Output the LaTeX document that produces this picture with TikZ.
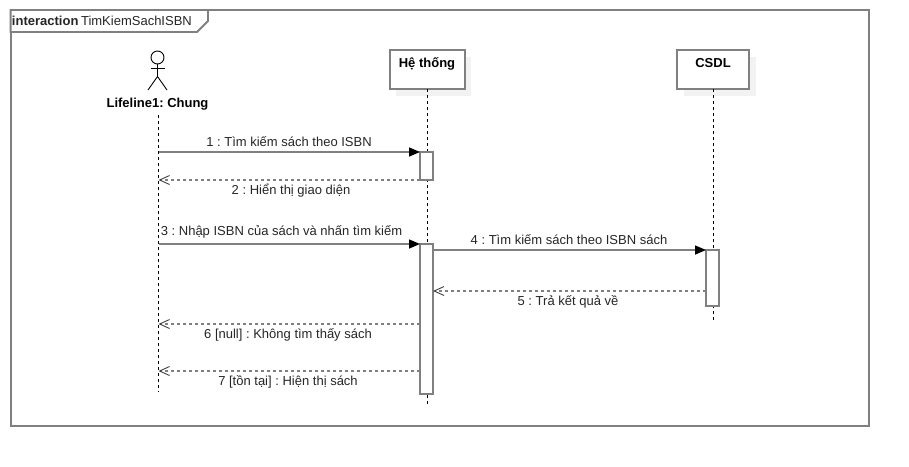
\documentclass[tikz,border=0pt]{standalone}
\usepackage{fontspec}
\setmainfont{Liberation Sans}
\frenchspacing
\usetikzlibrary{arrows.meta,calc}
\definecolor{ln}{HTML}{808080}
\tikzset{
  x=1pt,y=-1pt,
  every node/.style={outer sep=0pt},
  grayline/.style={draw=ln,line width=1.8pt},
  headbox/.style={grayline,fill=white,minimum width=#1,minimum height=39pt,inner sep=0pt,anchor=north west},
  actbox/.style={grayline,fill=white,minimum width=13pt,inner sep=0pt,anchor=north west},
  life/.style={black,line width=0.8pt,dash pattern=on 3pt off 3pt},
  syncmsg/.style={ln,line width=1.5pt,-{Triangle[black,length=11pt,width=9pt]},shorten >=0pt},
  retmsg/.style={ln,line width=1.3pt,dash pattern=on 3.5pt off 2.5pt,-{Straight Barb[black!75,length=10pt,width=9pt,line width=0.9pt]}},
  lbl/.style={font=\fontsize{13}{15}\selectfont,inner sep=0pt,text=black!85},
  head/.style={font=\fontsize{13}{15}\selectfont\bfseries,inner sep=0pt,text=black},
  stick/.style={black,line width=0.9pt},
  shadowfill/.style={fill=black!5,draw=none}
}
\begin{document}
\begin{tikzpicture}
\useasboundingbox (0,0) rectangle (909,466);
\fill[white] (0,0) rectangle (909,466);
% frame
\node[grayline,minimum width=858.4pt,minimum height=416pt,inner sep=0pt,anchor=north west] (frame) at (10.6,10) {};
\draw[grayline,fill=white] (10.6,10) -- (208,10) -- (208,21) -- (197,32) -- (10.6,32) -- cycle;
\node[font=\fontsize{13}{15}\selectfont,inner sep=0pt,anchor=base west,text=black!85] (title) at (12,25) {\textbf{interaction}\kern-1pt\ TimKiemSachISBN};
% shadows
\fill[shadowfill] (396,57) rectangle (471,96);
\fill[shadowfill] (684,57) rectangle (756,96);
% lifelines
\node[headbox=75pt] (sys) at (389.8,50) {};
\node[head,anchor=base] (systxt) at (427,67) {Hệ thống};
\node[headbox=72pt] (db) at (677,50) {};
\node[head,anchor=base] (dbtxt) at (713,67) {CSDL};
% actor
\node[draw=black,line width=0.9pt,circle,minimum size=13pt,inner sep=0pt] (ahead) at (157.5,57.5) {};
\coordinate (ahip) at (157.5,76.5);
\coordinate (aarmL) at (150.5,68);
\coordinate (aarmR) at (164.5,68);
\coordinate (alegL) at (148,90);
\coordinate (alegR) at (167,90);
\draw[stick] (ahead.south) -- (ahip);
\draw[stick] (aarmL) -- (aarmR);
\draw[stick] (alegL) -- (ahip) -- (alegR);
\node[head,anchor=base] (alabel) at (157.5,107) {Lifeline1: Chung};
% lifeline ends
\coordinate (l1top) at (158.5,115);
\coordinate (l1end) at (158.5,392);
\coordinate (l2end) at (427.5,405);
\coordinate (l3end) at (713.5,321);
\draw[life] (l1top) -- (l1end);
\draw[life] (sys.south -| l2end) -- (l2end);
\draw[life] (db.south -| l3end) -- (l3end);
% activations
\node[actbox,minimum height=28pt] (a1) at (420,152) {};
\node[actbox,minimum height=150pt] (a2) at (420,244) {};
\node[actbox,minimum height=56pt] (a3) at (706,250) {};
% messages
\coordinate (m1s) at (158.5,152);
\coordinate (m2e) at (158.5,180);
\coordinate (m3s) at (158.5,244);
\coordinate (m6e) at (158.5,324);
\coordinate (m7e) at (158.5,371);
\coordinate (m5e) at (433,291);
\coordinate (m5s) at (706,291);
\coordinate (m6s) at (420,324);
\coordinate (m7s) at (420,371);
\draw[syncmsg] (m1s) -- (a1.north west);
\draw[retmsg] (a1.south west) -- (m2e);
\draw[syncmsg] (m3s) -- (a2.north west);
\draw[syncmsg] (a2.east |- a3.north west) -- (a3.north west);
\draw[retmsg] (m5s) -- (m5e);
\draw[retmsg] (m6s) -- (m6e);
\draw[retmsg] (m7s) -- (m7e);
% labels
\node[lbl,anchor=base] (t1) at (289,146) {1 : Tìm kiếm sách theo ISBN};
\node[lbl,anchor=base] (t2) at (291,194) {2 : Hiển thị giao diện};
\node[lbl,anchor=base] (t3) at (281.5,235) {3 : Nhập ISBN của sách và nhấn tìm kiếm};
\node[lbl,anchor=base] (t4) at (569,244) {4 : Tìm kiếm sách theo ISBN sách};
\node[lbl,anchor=base] (t5) at (568,305) {5 : Trả kết quả về};
\node[lbl,anchor=base] (t6) at (288,338) {6 [null] : Không tìm thấy sách};
\node[lbl,anchor=base] (t7) at (288,385) {7 [tồn tại] : Hiện thị sách};
\end{tikzpicture}
\end{document}
